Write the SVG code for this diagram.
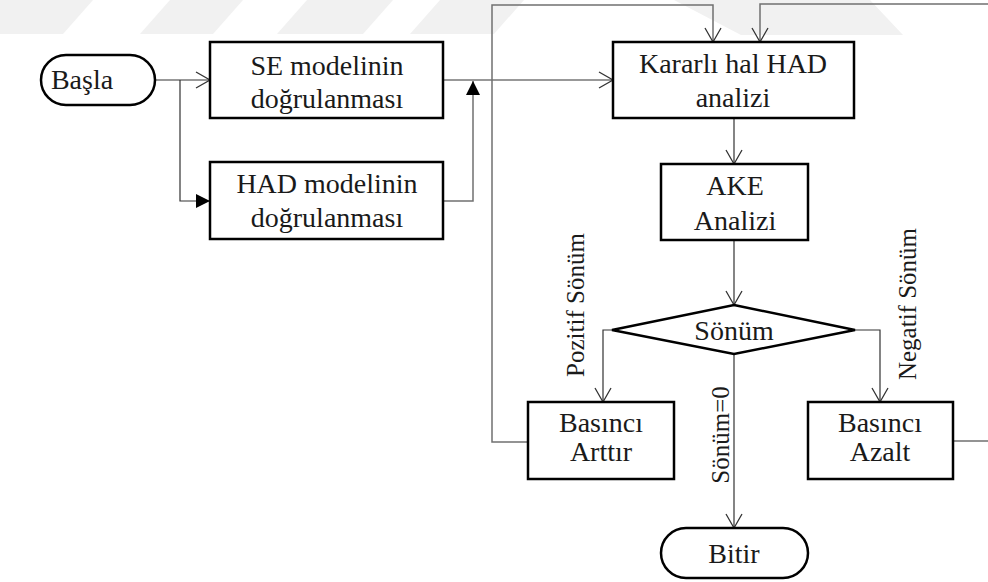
<svg xmlns="http://www.w3.org/2000/svg" width="988" height="582" viewBox="0 0 988 582">
  <style>
    .box { fill: #ffffff; stroke: #000000; stroke-width: 2.5; }
    .lbl { font-family: "Liberation Serif", "Tinos", "DejaVu Serif", serif; font-size: 28px; fill: #1a1a1a; text-anchor: middle; }
    .vlbl { font-family: "Liberation Serif", "Tinos", "DejaVu Serif", serif; font-size: 25px; fill: #1a1a1a; text-anchor: middle; }
    .wire { fill: none; stroke: #333333; stroke-width: 1.2; }
    .loop { fill: none; stroke: #707070; stroke-width: 1.5; }
    .bg { fill: #f1f1f1; }
  </style>
  <defs>
    <marker id="open" markerUnits="userSpaceOnUse" markerWidth="20" markerHeight="20" viewBox="-16 -10 18 20" refX="0" refY="0" orient="auto">
      <path d="M-14,-8 L0,0 L-14,8" fill="none" stroke="#333333" stroke-width="1.3"/>
    </marker>
    <marker id="solid" markerUnits="userSpaceOnUse" markerWidth="20" markerHeight="20" viewBox="-16 -10 18 20" refX="0" refY="0" orient="auto">
      <path d="M-14,-7 L0,0 L-14,7 Z" fill="#000000"/>
    </marker>
  </defs>

  <!-- faint background band pattern -->
  <g id="background">
    <polygon class="bg" points="0,0 93,0 63,34 0,34"/>
    <polygon class="bg" points="170,0 243,0 213,34 140,34"/>
    <polygon class="bg" points="307,0 393,0 363,34 277,34"/>
    <polygon class="bg" points="440,0 524,0 494,34 410,34"/>
    <polygon class="bg" points="674,0 870,0 903,35 741,35"/>
  </g>

  <g id="connectors">
    <path class="wire" d="M155,80 H210" marker-end="url(#open)"/>
    <path class="wire" d="M180,80 V201 H210" marker-end="url(#solid)"/>
    <path class="wire" d="M443,80 H613" marker-end="url(#open)"/>
    <path class="loop" d="M443,201 H473 V81" marker-end="url(#solid)"/>
    <path class="wire" d="M734,118 V164" marker-end="url(#open)"/>
    <path class="wire" d="M734,240 V305" marker-end="url(#open)"/>
    <path class="wire" d="M612,330 H603 V402" marker-end="url(#open)"/>
    <path class="wire" d="M855,330 H880 V402" marker-end="url(#open)"/>
    <path class="wire" d="M734,354 V528" marker-end="url(#open)"/>
    <path class="loop" d="M528,442 H492 V5 H713 V42" marker-end="url(#open)"/>
    <path class="loop" d="M953,441 H994 V4 H760 V42" marker-end="url(#open)"/>
  </g>

  <g id="edge-labels">
    <text class="vlbl" transform="translate(584,305) rotate(-90)">Pozitif Sönüm</text>
    <text class="vlbl" transform="translate(916,304) rotate(-90)">Negatif Sönüm</text>
    <text class="vlbl" transform="translate(729,435) rotate(-90)">Sönüm=0</text>
  </g>

  <g id="start">
    <rect class="box" x="41" y="55" width="114" height="50" rx="25" ry="25"/>
    <text class="lbl" x="82" y="89">Başla</text>
  </g>

  <g id="se-model">
    <rect class="box" x="210" y="42" width="233" height="76"/>
    <text class="lbl" x="327" y="75">SE modelinin</text>
    <text class="lbl" x="327" y="108">doğrulanması</text>
  </g>

  <g id="had-model">
    <rect class="box" x="210" y="162" width="233" height="77"/>
    <text class="lbl" x="327" y="193">HAD modelinin</text>
    <text class="lbl" x="327" y="227">doğrulanması</text>
  </g>

  <g id="steady-had">
    <rect class="box" x="613" y="42" width="241" height="76"/>
    <text class="lbl" x="733" y="73">Kararlı hal HAD</text>
    <text class="lbl" x="733" y="107">analizi</text>
  </g>

  <g id="ake">
    <rect class="box" x="661" y="164" width="147" height="76"/>
    <text class="lbl" x="735" y="195">AKE</text>
    <text class="lbl" x="735" y="230">Analizi</text>
  </g>

  <g id="damping">
    <polygon class="box" points="734,305 855,330 734,354 612,330"/>
    <text class="lbl" x="734" y="340">Sönüm</text>
  </g>

  <g id="increase">
    <rect class="box" x="528" y="402" width="146" height="77"/>
    <text class="lbl" x="601" y="432">Basıncı</text>
    <text class="lbl" x="601" y="461">Arttır</text>
  </g>

  <g id="decrease">
    <rect class="box" x="808" y="402" width="145" height="77"/>
    <text class="lbl" x="880" y="432">Basıncı</text>
    <text class="lbl" x="880" y="461">Azalt</text>
  </g>

  <g id="end">
    <rect class="box" x="661" y="528" width="147" height="50" rx="25" ry="25"/>
    <text class="lbl" x="734" y="563">Bitir</text>
  </g>
</svg>
